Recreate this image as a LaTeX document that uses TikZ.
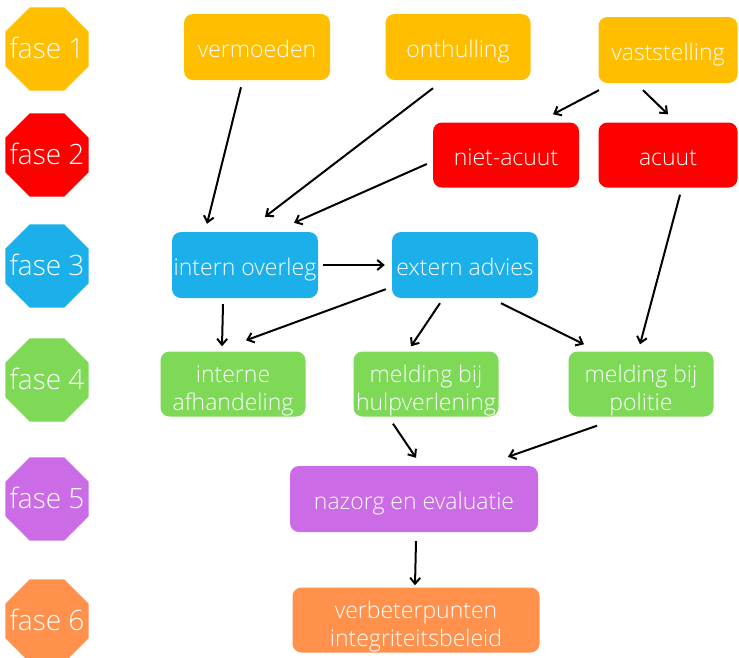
\documentclass[tikz,border=0pt]{standalone}
\usepackage{fontspec}
\setmainfont{Open Sans Light}
\usetikzlibrary{shapes.geometric, arrows.meta, calc}
\definecolor{fasegeel}{RGB}{255,191,0}
\definecolor{faserood}{RGB}{255,0,0}
\definecolor{faseblauw}{RGB}{27,176,233}
\definecolor{fasegroen}{RGB}{126,217,87}
\definecolor{fasepaars}{RGB}{203,108,230}
\definecolor{faseoranje}{RGB}{255,145,77}

\tikzset{
    fase/.style={regular polygon, regular polygon sides=8, minimum size=90pt, inner sep=0pt,
        fill=#1, text=white, font=\fontsize{28}{30}\selectfont, text height=19pt, text depth=0pt},
    blok/.style={rounded corners=9pt, fill=#1, text=white, align=center,
        font=\fontsize{23}{28}\selectfont, inner sep=0pt, text height=20pt, text depth=0pt},
    tweeregels/.style={text height=52pt, text depth=0pt},
    pijl/.style={-{Straight Barb[length=6pt, width=10pt, line width=2pt]}, line width=2pt, black}
}

\begin{document}
\begin{tikzpicture}[x=1pt, y=-1pt]
    \useasboundingbox (0,0) rectangle (739,657);

    % fases
    \node[fase=fasegeel] (f1) at (47,49) {\makebox[0pt]{fase 1}};
    \node[fase=faserood] (f2) at (47,155) {\makebox[0pt]{fase 2}};
    \node[fase=faseblauw] (f3) at (47,266) {\makebox[0pt]{fase 3}};
    \node[fase=fasegroen] (f4) at (47,380) {\makebox[0pt]{fase 4}};
    \node[fase=fasepaars] (f5) at (47,499) {\makebox[0pt]{fase 5}};
    \node[fase=faseoranje] (f6) at (47,621) {\makebox[0pt]{fase 6}};

    % blokken
    \node[blok=fasegeel, minimum width=146pt, minimum height=66pt] (verm) at (257,47) {vermoeden};
    \node[blok=fasegeel, minimum width=145pt, minimum height=66pt] (onth) at (458,47) {onthulling};
    \node[blok=fasegeel, minimum width=139pt, minimum height=66pt] (vast) at (668,50) {vaststelling};
    \node[blok=faserood, minimum width=146pt, minimum height=65pt] (niet) at (506,155) {niet-acuut};
    \node[blok=faserood, minimum width=139pt, minimum height=65pt] (acuut) at (668,155) {acuut};
    \node[blok=faseblauw, minimum width=146pt, minimum height=66pt] (intov) at (245,265) {intern overleg};
    \node[blok=faseblauw, minimum width=146pt, minimum height=66pt] (extad) at (465,265) {extern advies};
    \node[blok=fasegroen, tweeregels, minimum width=145pt, minimum height=65pt] (intaf) at (233,384) {interne\\afhandeling};
    \node[blok=fasegroen, tweeregels, minimum width=145pt, minimum height=65pt] (hulp) at (426,384) {melding bij\\hulpverlening};
    \node[blok=fasegroen, tweeregels, minimum width=145pt, minimum height=65pt] (polit) at (641,384) {melding bij\\politie};
    \node[blok=fasepaars, minimum width=248pt, minimum height=66pt] (nazorg) at (414,499) {nazorg en evaluatie};
    \node[blok=faseoranje, tweeregels, minimum width=247pt, minimum height=65pt] (verbet) at (416,620) {verbeterpunten\\integriteitsbeleid};

    % pijlen
    \draw[pijl] ($(verm.south)+(-16,7)$) -- ($(intov.north)+(-38,-8)$);
    \draw[pijl] ($(onth.south)+(-25,8)$) -- ($(intov.north)+(20,-15)$);
    \draw[pijl] ($(niet.west)+(-6,9)$) -- ($(intov.north)+(49,-9)$);
    \draw[pijl] ($(vast.south)+(-69,7)$) -- ($(niet.north)+(47,-8)$);
    \draw[pijl] ($(vast.south)+(-25,7)$) -- ($(acuut.north)+(0,-8)$);
    \draw[pijl] ($(acuut.south)+(12,7)$) -- ($(polit.north)+(-1,-7)$);
    \draw[pijl] ($(intov.east)+(5,0)$) -- ($(extad.west)+(-7,0)$);
    \draw[pijl] ($(intov.south)+(-22,6)$) -- ($(intaf.north)+(-11,-5)$);
    \draw[pijl] ($(extad.south west)+(-6,-9)$) -- ($(intaf.north)+(13,-11)$);
    \draw[pijl] ($(extad.south)+(-25,5)$) -- ($(hulp.north)+(-15,-5)$);
    \draw[pijl] ($(extad.south)+(36,5)$) -- ($(polit.north)+(-57,-7)$);
    \draw[pijl] ($(hulp.south)+(-33,7)$) -- ($(nazorg.north)+(2,-8)$);
    \draw[pijl] ($(polit.south)+(-44,9)$) -- ($(nazorg.north)+(94,-9)$);
    \draw[pijl] ($(nazorg.south)+(2,9)$) -- ($(verbet.north)+(-1,-2)$);
\end{tikzpicture}
\end{document}
